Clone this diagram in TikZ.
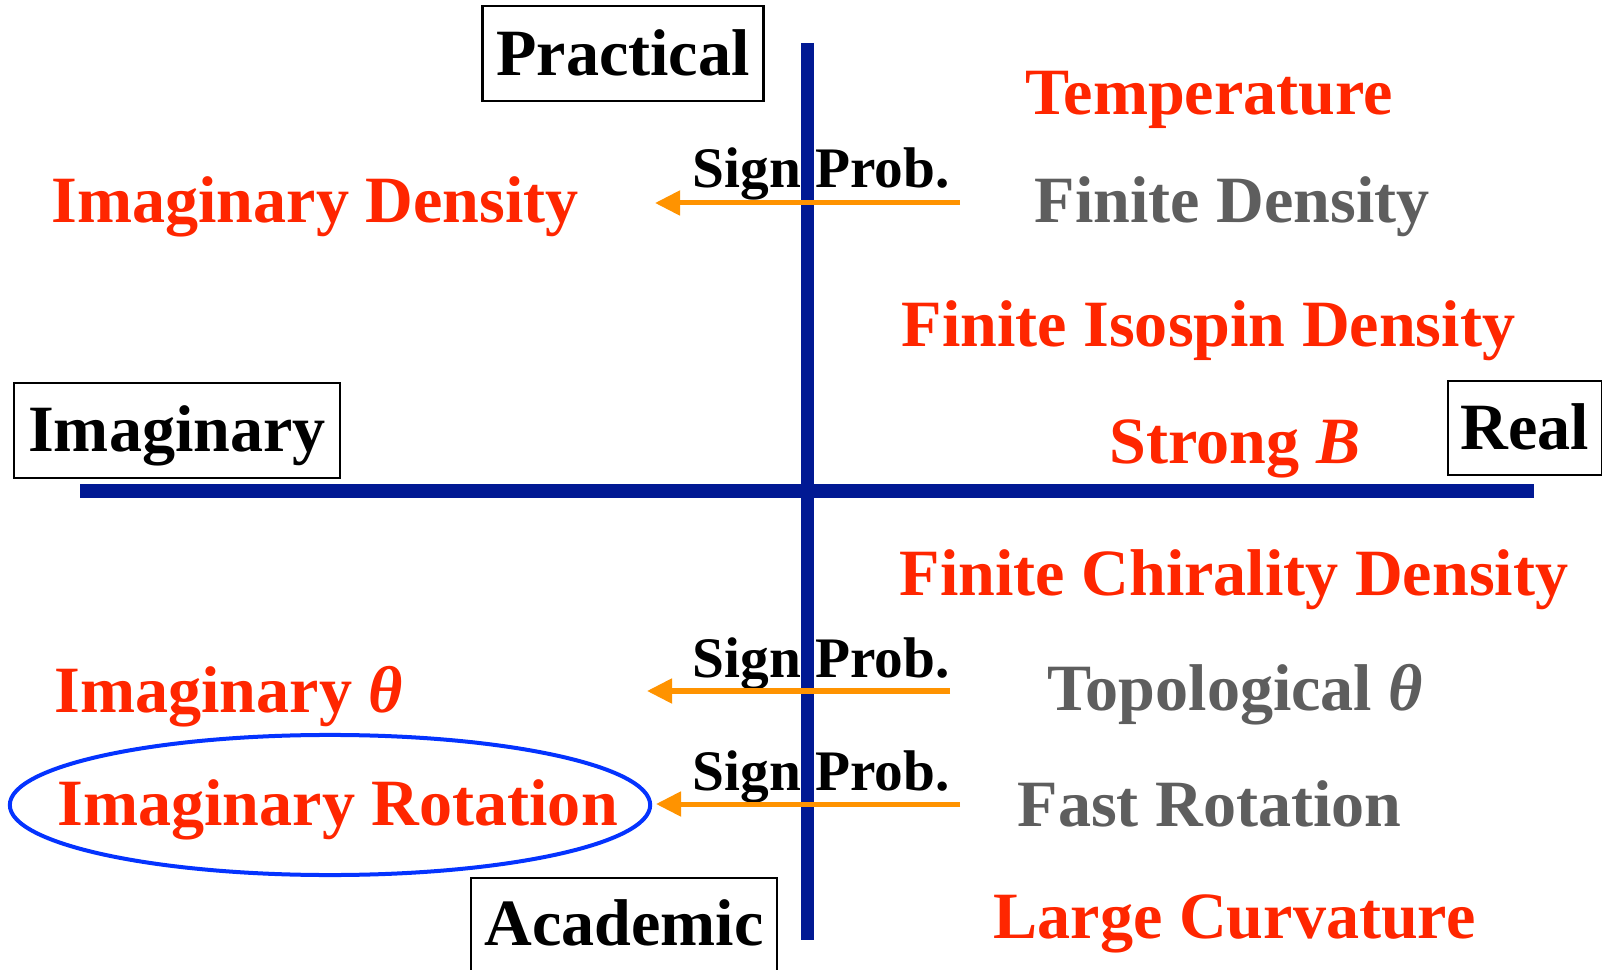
\documentclass[tikz,border=0pt]{standalone}
\usepackage{fontspec}
\setmainfont{Liberation Serif}
\usetikzlibrary{arrows.meta}

\begin{document}
\begin{tikzpicture}[x=0.01cm, y=-0.01cm]
    % Define colours
    \definecolor{axisColour}{HTML}{011993}
    \definecolor{realColour}{HTML}{FF2600}
    \definecolor{dullColour}{HTML}{5E5E5E}
    \definecolor{probColour}{HTML}{FF9300}
    \definecolor{ringColour}{HTML}{0433FF}

    % Define styles
    \tikzset{
        label/.style={anchor=base west, inner sep=0pt, font=\fontsize{18.8}{22}\selectfont\bfseries},
        hot/.style={label, text=realColour},
        cold/.style={label, text=dullColour},
        signlabel/.style={anchor=base west, inner sep=0pt, font=\fontsize{16.3}{19}\selectfont\bfseries},
        corner/.style={draw, line width=0.7pt, inner sep=0pt, anchor=base, font=\fontsize{18.8}{22}\selectfont\bfseries},
        axis/.style={draw=axisColour, line width=0.13cm},
        probarrow/.style={draw=probColour, line width=0.05cm, -{Triangle[length=0.25cm,width=0.24cm]}}
    }

    % Fix the page size
    \useasboundingbox (0,0) rectangle (1602,970);

    % Label the corners of the plane
    \node[corner, minimum width=2.81cm, text height=0.695cm, text depth=0.255cm] (practical) at (623,75.5) {Practical};
    \node[corner, minimum width=3.26cm, text height=0.69cm, text depth=0.26cm] (imaginary) at (177,452) {Imaginary};
    \node[corner, minimum width=1.54cm, text height=0.68cm, text depth=0.26cm] (real) at (1525,449) {Real};
    \node[corner, minimum width=3.06cm, text height=0.67cm, text depth=0.6cm] (academic) at (624,945) {Academic};

    % Sign problem labels
    \node[signlabel] (signtop) at (692,188) {Sign Prob.};
    \node[signlabel] (signmid) at (692,677) {Sign Prob.};
    \node[signlabel] (signlow) at (692,790) {Sign Prob.};

    % Draw axes
    \coordinate (left) at (80,491);
    \coordinate (right) at (1534,491);
    \coordinate (top) at (807,43);
    \coordinate (bottom) at (807,940);
    \draw[axis] (left) -- (right);
    \draw[axis] (top) -- (bottom);

    % Real side
    \node[hot] (temperature) at (1025,115) {Temperature};
    \node[cold] (density) at (1034,223) {Finite Density};
    \node[hot] (isospin) at (901,347) {Finite Isospin Density};
    \node[hot] (strongB) at (1109,463) {Strong \textit{B}};
    \node[hot] (chirality) at (899,596) {Finite Chirality Density};
    \node[cold] (topological) at (1047,710) {Topological \textit{θ}};
    \node[cold] (rotation) at (1017,826) {Fast Rotation};
    \node[hot] (curvature) at (993,938) {Large Curvature};

    % Imaginary side
    \node[hot] (imagDensity) at (51,223) {Imaginary Density};
    \node[hot] (imagTheta) at (54,712) {Imaginary \textit{θ}};
    \node[hot] (imagRotation) at (57,825) {Imaginary Rotation};

    % Ring round the imaginary rotation
    \draw[draw=ringColour, line width=0.04cm] (330,805) ellipse [x radius=3.2cm, y radius=0.7cm];

    % Arrows over the sign problem
    \coordinate (densityTail) at (960,203);
    \coordinate (densityTip) at (655,203);
    \coordinate (thetaTail) at (950,691);
    \coordinate (thetaTip) at (647,691);
    \coordinate (rotationTail) at (960,804);
    \coordinate (rotationTip) at (656,804);
    \draw[probarrow] (densityTail) -- (densityTip);
    \draw[probarrow] (thetaTail) -- (thetaTip);
    \draw[probarrow] (rotationTail) -- (rotationTip);

\end{tikzpicture}
\end{document}
